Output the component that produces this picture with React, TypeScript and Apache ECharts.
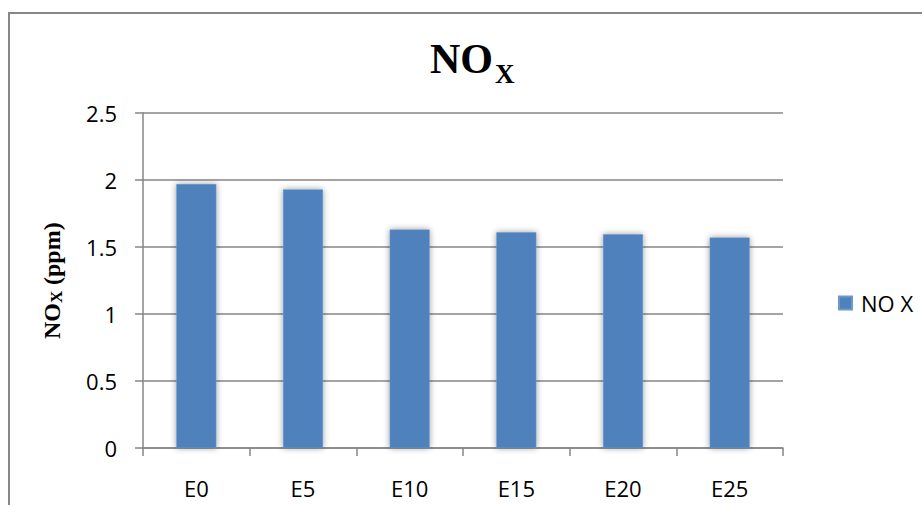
import React, { useEffect, useRef } from "react";
import * as echarts from "echarts";

const categories = ["E0", "E5", "E10", "E15", "E20", "E25"];
const noxValues = [1.97, 1.93, 1.63, 1.61, 1.595, 1.57];
const seriesName = "NO X";
const yMin = 0;
const yMax = 2.5;
const yInterval = 0.5;

const SANS = "Open Sans, Liberation Sans, sans-serif";
const SERIF = "Liberation Serif, Times New Roman, serif";

function serifText(text: string, x: number, y: number, size: number) {
  return {
    type: "text",
    x,
    y,
    style: {
      text,
      fontFamily: SERIF,
      fontSize: size,
      fontWeight: "bold",
      fill: "#000",
      align: "left",
      verticalAlign: "middle",
    },
  };
}

export default function App() {
  const ref = useRef<HTMLDivElement>(null);
  useEffect(() => {
    if (!ref.current) return;
    const chart = echarts.init(ref.current, null, { renderer: "svg" });
    chart.setOption({
      animation: false,
      backgroundColor: "#ffffff",
      grid: { left: 143, right: 139, top: 113, bottom: 57, containLabel: false },
      legend: {
        data: [seriesName],
        left: 833,
        top: 287,
        icon: "rect",
        itemWidth: 13,
        itemHeight: 13,
        textStyle: { fontFamily: SANS, fontSize: 22, color: "#000", padding: [0, 0, 0, 4] },
      },
      xAxis: {
        type: "category",
        data: categories,
        axisLine: { show: true, lineStyle: { color: "#868686", width: 1.5 } },
        axisTick: { show: true, length: 8, alignWithLabel: false, lineStyle: { color: "#868686", width: 1.5 } },
        axisLabel: { margin: 29, fontFamily: SANS, fontSize: 22, color: "#000" },
        splitLine: { show: false },
      },
      yAxis: {
        type: "value",
        min: yMin,
        max: yMax,
        interval: yInterval,
        axisLine: { show: true, lineStyle: { color: "#868686", width: 1.5 } },
        axisTick: { show: true, length: 8, lineStyle: { color: "#868686", width: 1.5 } },
        axisLabel: { margin: 26, fontFamily: SANS, fontSize: 22, color: "#000" },
        splitLine: { show: true, lineStyle: { color: "#868686", width: 1.5 } },
      },
      series: [
        {
          name: seriesName,
          type: "bar",
          data: noxValues,
          barWidth: 40,
          itemStyle: {
            color: "#4F81BD",
            borderColor: "#6a98cf",
            borderWidth: 0.5,
            shadowBlur: 6,
            shadowColor: "rgba(0,0,0,0.4)",
            shadowOffsetX: 0,
            shadowOffsetY: 0,
          },
        },
      ],
      graphic: [
        {
          type: "polyline",
          shape: { points: [[9, 505], [9, 13], [922, 13]] },
          style: { stroke: "#878787", lineWidth: 2, fill: null },
          silent: true,
        },
        serifText("NO", 430, 59, 42),
        serifText("X", 495, 74, 27),
        {
          type: "group",
          x: 52,
          y: 339,
          rotation: Math.PI / 2,
          children: [
            serifText("NO", 0, 0, 24),
            serifText("X", 36, 4, 17),
            serifText(" (ppm)", 48, 0, 24),
          ],
        },
      ],
    });
    return () => chart.dispose();
  }, []);
  return (
    <div
      ref={ref}
      style={{ position: "fixed", left: 0, top: 0, width: 922, height: 505 }}
    />
  );
}
